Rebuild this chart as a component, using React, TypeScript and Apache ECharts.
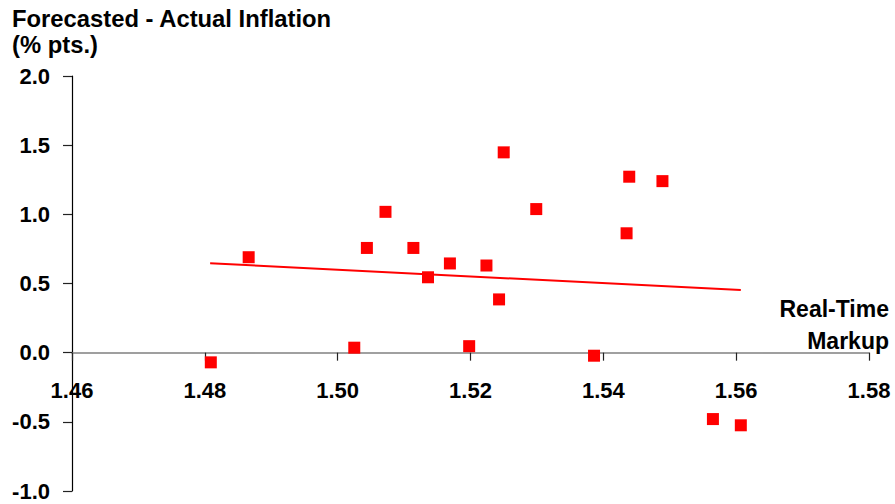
import React, { useEffect, useRef } from "react";
import * as echarts from "echarts";

const markupValues = [
  1.4809, 1.4866, 1.5025, 1.5044, 1.5072, 1.5114, 1.5136, 1.5169, 1.5198, 1.5224,
  1.5243, 1.5250, 1.5299, 1.5386, 1.5435, 1.5439, 1.5489, 1.5565, 1.5607,
];
const inflationGap = [
  -0.07, 0.69, 0.036, 0.757, 1.018, 0.757, 0.545, 0.645, 0.047, 0.63,
  0.385, 1.448, 1.038, -0.022, 0.863, 1.272, 1.24, -0.48, -0.525,
];
const trendX = [1.4808, 1.5607];
const trendY = [0.646, 0.453];

const titleLines = ["Forecasted - Actual Inflation", "(% pts.)"];
const xNameLines = ["Real-Time", "Markup"];

const FONT = "'Liberation Sans', Arial, Helvetica, sans-serif";

const W = 895;
const H = 504;
const GRID = { left: 72, right: 26, top: 76, bottom: 13 };
const Y_MIN = -1;
const Y_MAX = 2;

export default function App() {
  const ref = useRef<HTMLDivElement>(null);

  useEffect(() => {
    if (!ref.current) return;
    const chart = echarts.init(ref.current, undefined, { renderer: "svg" });
    const scatterData = markupValues.map((x, i) => [x, inflationGap[i]]);
    const trendData = trendX.map((x, i) => [x, trendY[i]]);
    const gridHeight = H - GRID.top - GRID.bottom;
    const zeroOffset = -(gridHeight * (0 - Y_MIN)) / (Y_MAX - Y_MIN);

    chart.setOption({
      animation: false,
      backgroundColor: "#ffffff",
      textStyle: { fontFamily: FONT },
      grid: { ...GRID, containLabel: false, outerBoundsMode: "none" },
      xAxis: {
        type: "value",
        min: 1.46,
        max: 1.58,
        interval: 0.02,
        position: "bottom",
        offset: zeroOffset,
        axisLine: { onZero: false, lineStyle: { color: "#808080", width: 1.5 } },
        axisTick: { show: true, length: 8, inside: false, lineStyle: { color: "#222222", width: 1.2 } },
        axisLabel: {
          margin: 27,
          color: "#000000",
          fontSize: 22,
          fontWeight: "bold",
          fontFamily: FONT,
          formatter: (v: number) => v.toFixed(2),
        },
        splitLine: { show: false },
      },
      yAxis: {
        type: "value",
        min: Y_MIN,
        max: Y_MAX,
        interval: 0.5,
        axisLine: { show: true, onZero: false, lineStyle: { color: "#000000", width: 1.2 } },
        axisTick: { show: true, length: 9, inside: false, lineStyle: { color: "#222222", width: 1.2 } },
        axisLabel: {
          margin: 22,
          color: "#000000",
          fontSize: 22,
          fontWeight: "bold",
          fontFamily: FONT,
          formatter: (v: number) => v.toFixed(1),
        },
        splitLine: { show: false },
      },
      series: [
        {
          type: "line",
          data: trendData,
          symbol: "none",
          lineStyle: { color: "#ff0000", width: 2 },
          z: 2,
        },
        {
          type: "scatter",
          data: scatterData,
          symbol: "rect",
          symbolSize: 12,
          itemStyle: { color: "#ff0000", opacity: 1 },
          z: 3,
        },
      ],
      graphic: [
        {
          type: "text",
          left: 12,
          top: 6,
          style: {
            text: titleLines[0],
            font: `bold 23.8px ${FONT}`,
            fill: "#000000",
          },
        },
        {
          type: "text",
          left: 12,
          top: 32,
          style: {
            text: titleLines[1],
            font: `bold 23.8px ${FONT}`,
            fill: "#000000",
          },
        },
        {
          type: "text",
          right: 6,
          top: 297,
          style: {
            text: xNameLines[0],
            font: `bold 23px ${FONT}`,
            fill: "#000000",
            align: "right",
          },
        },
        {
          type: "text",
          right: 6,
          top: 329,
          style: {
            text: xNameLines[1],
            font: `bold 23px ${FONT}`,
            fill: "#000000",
            align: "right",
          },
        },
      ],
    });

    return () => chart.dispose();
  }, []);

  return (
    <div
      ref={ref}
      style={{ position: "absolute", left: 0, top: 0, width: W, height: H }}
    />
  );
}
